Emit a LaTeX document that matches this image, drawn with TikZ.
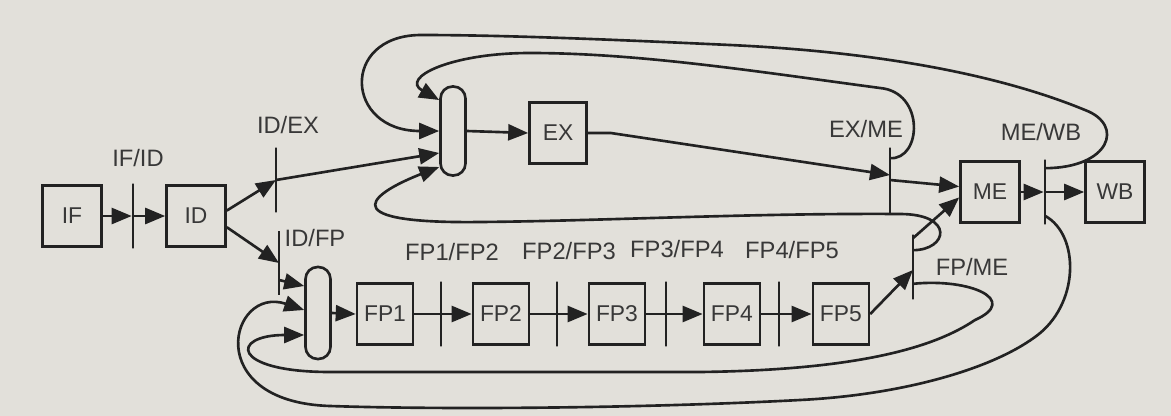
\documentclass[tikz,border=0pt]{standalone}
\usepackage{fontspec}
\setmainfont{Liberation Sans}
\usetikzlibrary{arrows.meta,positioning}

\definecolor{paper}{RGB}{226,224,218}
\definecolor{ink}{RGB}{34,34,34}

\begin{document}
\begin{tikzpicture}[x=0.02cm, y=-0.02cm, node distance=1.2cm,
    stage/.style={rectangle, draw=ink, line width=1.5pt, minimum width=1.18cm, minimum height=1.22cm, inner sep=0pt, font=\fontsize{13}{15}\selectfont, text=ink!90},
    fpstage/.style={stage, minimum width=1.12cm},
    latch/.style={draw=ink, line width=1.5pt, inner sep=0pt, minimum width=0pt, minimum height=1.3cm},
    mux/.style={draw=ink, line width=1.5pt, rounded corners=0.24cm, minimum width=0.5cm, minimum height=1.78cm, inner sep=0pt},
    lbl/.style={font=\fontsize{13.5}{15}\selectfont, text=ink!90, inner sep=0pt},
    arrow/.style={draw=ink, line width=1.5pt, -{Triangle[length=0.4cm, width=0.32cm]}}]

    \fill[paper] (0,0) rectangle (1171,416);
    \useasboundingbox (0,0) rectangle (1171,416);

    % integer pipe
    \node [stage] (if) at (72,216) {IF};
    \node [latch] (ifid) at (133,216) {};
    \node [stage] (id) at (196,216) {ID};
    \node [latch] (idex) at (276,180) {};
    \node [latch, minimum height=1.28cm] (idfp) at (279,263) {};
    \node [mux] (exmux) at (453,131) {};
    \node [stage, minimum width=1.14cm] (ex) at (558,133) {EX};
    \node [latch, minimum height=1.34cm] (exme) at (890,181) {};
    \node [stage] (me) at (990,192) {ME};
    \node [latch] (mewb) at (1045,192) {};
    \node [stage] (wb) at (1115,192) {WB};

    % fp pipe
    \node [mux, minimum height=1.84cm] (fpmux) at (318,313) {};
    \node [fpstage] (fp1) at (385,314) {FP1};
    \node [latch, right of=fp1, node distance=1.12cm] (fp12) {};
    \node [fpstage, right of=fp12] (fp2) {FP2};
    \node [latch, right of=fp2, node distance=1.12cm] (fp23) {};
    \node [fpstage, right of=fp23] (fp3) {FP3};
    \node [latch, right of=fp3, node distance=0.98cm] (fp34) {};
    \node [fpstage, right of=fp34, node distance=1.32cm] (fp4) {FP4};
    \node [latch, right of=fp4, node distance=0.94cm] (fp45) {};
    \node [fpstage, right of=fp45, node distance=1.24cm] (fp5) {FP5};
    \node [latch] (fpme) at (913,267) {};

    % labels
    \node [lbl] (ifidlbl) at (138,158) {IF/ID};
    \node [lbl] (idexlbl) at (288,125) {ID/EX};
    \node [lbl] (idfplbl) at (315,238) {ID/FP};
    \node [lbl] (fp12lbl) at (452,252) {FP1/FP2};
    \node [lbl] (fp23lbl) at (569,251) {FP2/FP3};
    \node [lbl] (fp34lbl) at (677,249) {FP3/FP4};
    \node [lbl] (fp45lbl) at (792,250) {FP4/FP5};
    \node [lbl] (exmelbl) at (866,129) {EX/ME};
    \node [lbl] (mewblbl) at (1041,132) {ME/WB};
    \node [lbl] (fpmelbl) at (972,267) {FP/ME};

    \draw [arrow] (if) -- (ifid);
    \draw [arrow] (ifid) -- (id);
    \draw [arrow] (id.10) -- (idex.center);
    \draw [arrow] (id.-20) -- (idfp.center);
    \draw [arrow] (idex.center) -- ([yshift=-0.44cm]exmux.west);
    \draw [arrow] ([yshift=-0.34cm]idfp.center) -- ([yshift=0.54cm]fpmux.west);
    \draw [arrow] (exmux.east) -- (ex.west);
    \draw [arrow] (fpmux.east) -- (fp1.west);
    \draw [arrow] (fp1) -- (fp2);
    \draw [arrow] (fp2) -- (fp3);
    \draw [arrow] (fp3) -- (fp4);
    \draw [arrow] (fp4) -- (fp5);
    \draw [arrow] (fp5.east) -- ([yshift=-0.06cm]fpme.center);
    \draw [arrow] ([yshift=-0.1cm]fpme.north) -- (me.190);
    \draw [arrow] (ex.east) -- ++(23,0) -- ([yshift=0.12cm]exme.center);
    \draw [arrow] ([yshift=0.02cm]exme.center) -- (me.170);
    \draw [arrow] (me) -- (mewb);
    \draw [arrow] (mewb) -- (wb);

    % bypass loops
    \draw [arrow] ([yshift=-0.24cm]exme.north) .. controls (922,160) and (925,92) .. (880,88)
        .. controls (760,72) and (640,53) .. (530,53)
        .. controls (450,53) and (400,78) .. ([yshift=0.62cm]exmux.west);
    \draw [arrow] ([yshift=-0.2cm]mewb.north) .. controls (1110,168) and (1125,125) .. (1085,110)
        .. controls (1000,75) and (880,52) .. (730,45)
        .. controls (600,39) and (500,35) .. (420,35)
        .. controls (340,36) and (345,131) .. (exmux.west);
    \draw [arrow] ([yshift=-0.34cm]fpme.north) .. controls (948,250) and (955,214) .. (900,214)
        .. controls (750,213) and (600,221) .. (480,222)
        .. controls (320,224) and (380,190) .. ([yshift=-0.72cm]exmux.west);
    \draw [arrow] ([yshift=0.34cm]fpme.south) .. controls (970,278) and (1020,300) .. (975,320)
        .. controls (935,347) and (860,370) .. (700,372) -- (330,372)
        .. controls (230,372) and (230,335) .. ([yshift=-0.44cm]fpmux.west);
    \draw [arrow] ([yshift=0.2cm]mewb.south) .. controls (1080,235) and (1080,305) .. (1035,337)
        .. controls (990,370) and (900,395) .. (800,400)
        .. controls (650,408) and (450,410) .. (330,406)
        .. controls (200,402) and (230,285) .. ([yshift=0.06cm]fpmux.west);
\end{tikzpicture}
\end{document}
